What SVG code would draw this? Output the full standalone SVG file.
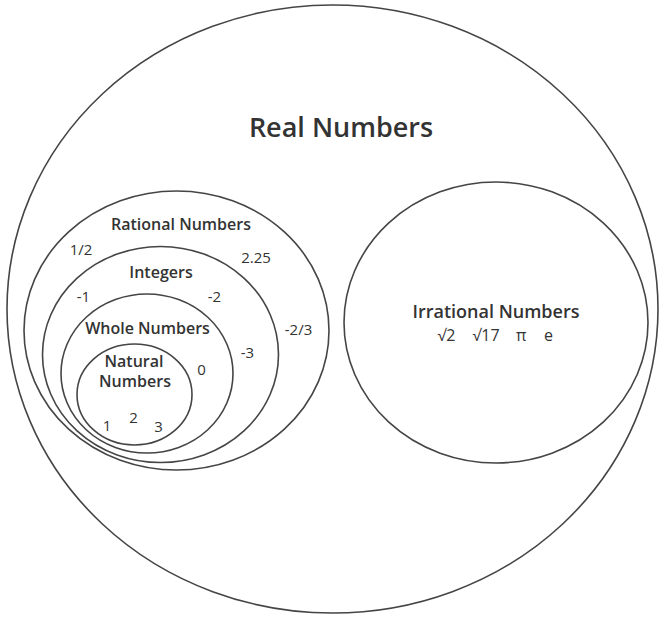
<svg xmlns="http://www.w3.org/2000/svg" width="659" height="618" viewBox="0 0 659 618">
<style>
.set{fill:none;stroke:#454545;stroke-width:1.6}
.title{font-family:"Open Sans","Noto Sans","Liberation Sans",sans-serif;font-weight:600;fill:#333;text-anchor:middle}
.num{font-family:"Open Sans","Noto Sans","Liberation Sans",sans-serif;font-weight:400;fill:#333;text-anchor:middle;font-size:15px}
</style>
<rect width="659" height="618" fill="#fff"/>
<g id="real">
<ellipse class="set" cx="332.5" cy="309" rx="325.5" ry="304"/>
<text class="title" x="341" y="137" font-size="27">Real Numbers</text>
</g>
<g id="rational">
<ellipse class="set" cx="176.5" cy="330.5" rx="152.5" ry="139.5"/>
<text class="title" x="181" y="230" font-size="16">Rational Numbers</text>
<text class="num" x="81" y="255">1/2</text>
<text class="num" x="256" y="263">2.25</text>
<text class="num" x="298.5" y="335">-2/3</text>
</g>
<g id="integers">
<ellipse class="set" cx="160.5" cy="354.5" rx="118" ry="108"/>
<text class="title" x="161" y="278" font-size="16">Integers</text>
<text class="num" x="83.5" y="302">-1</text>
<text class="num" x="214.5" y="302">-2</text>
<text class="num" x="247.5" y="358">-3</text>
</g>
<g id="whole">
<ellipse class="set" cx="147" cy="373.5" rx="86" ry="79.5"/>
<text class="title" x="147.5" y="334" font-size="16">Whole Numbers</text>
<text class="num" x="201.5" y="375">0</text>
</g>
<g id="natural">
<ellipse class="set" cx="134.5" cy="394.5" rx="57.5" ry="50.5"/>
<text class="title" font-size="16"><tspan x="134" y="366.5">Natural</tspan><tspan x="135" y="387">Numbers</tspan></text>
<text class="num" x="107" y="431">1</text>
<text class="num" x="133.5" y="423">2</text>
<text class="num" x="158.5" y="432">3</text>
</g>
<g id="irrational">
<ellipse class="set" cx="496" cy="322.5" rx="152" ry="140.5"/>
<text class="title" x="496" y="318" font-size="18">Irrational Numbers</text>
<text class="num" font-size="16" style="text-anchor:start;font-size:16px"><tspan x="437.5" y="341">√2</tspan><tspan x="472.5" y="341">√17</tspan><tspan x="516" y="341">π</tspan><tspan x="544" y="341">e</tspan></text>
</g>
<g id="connectors"/>
</svg>
